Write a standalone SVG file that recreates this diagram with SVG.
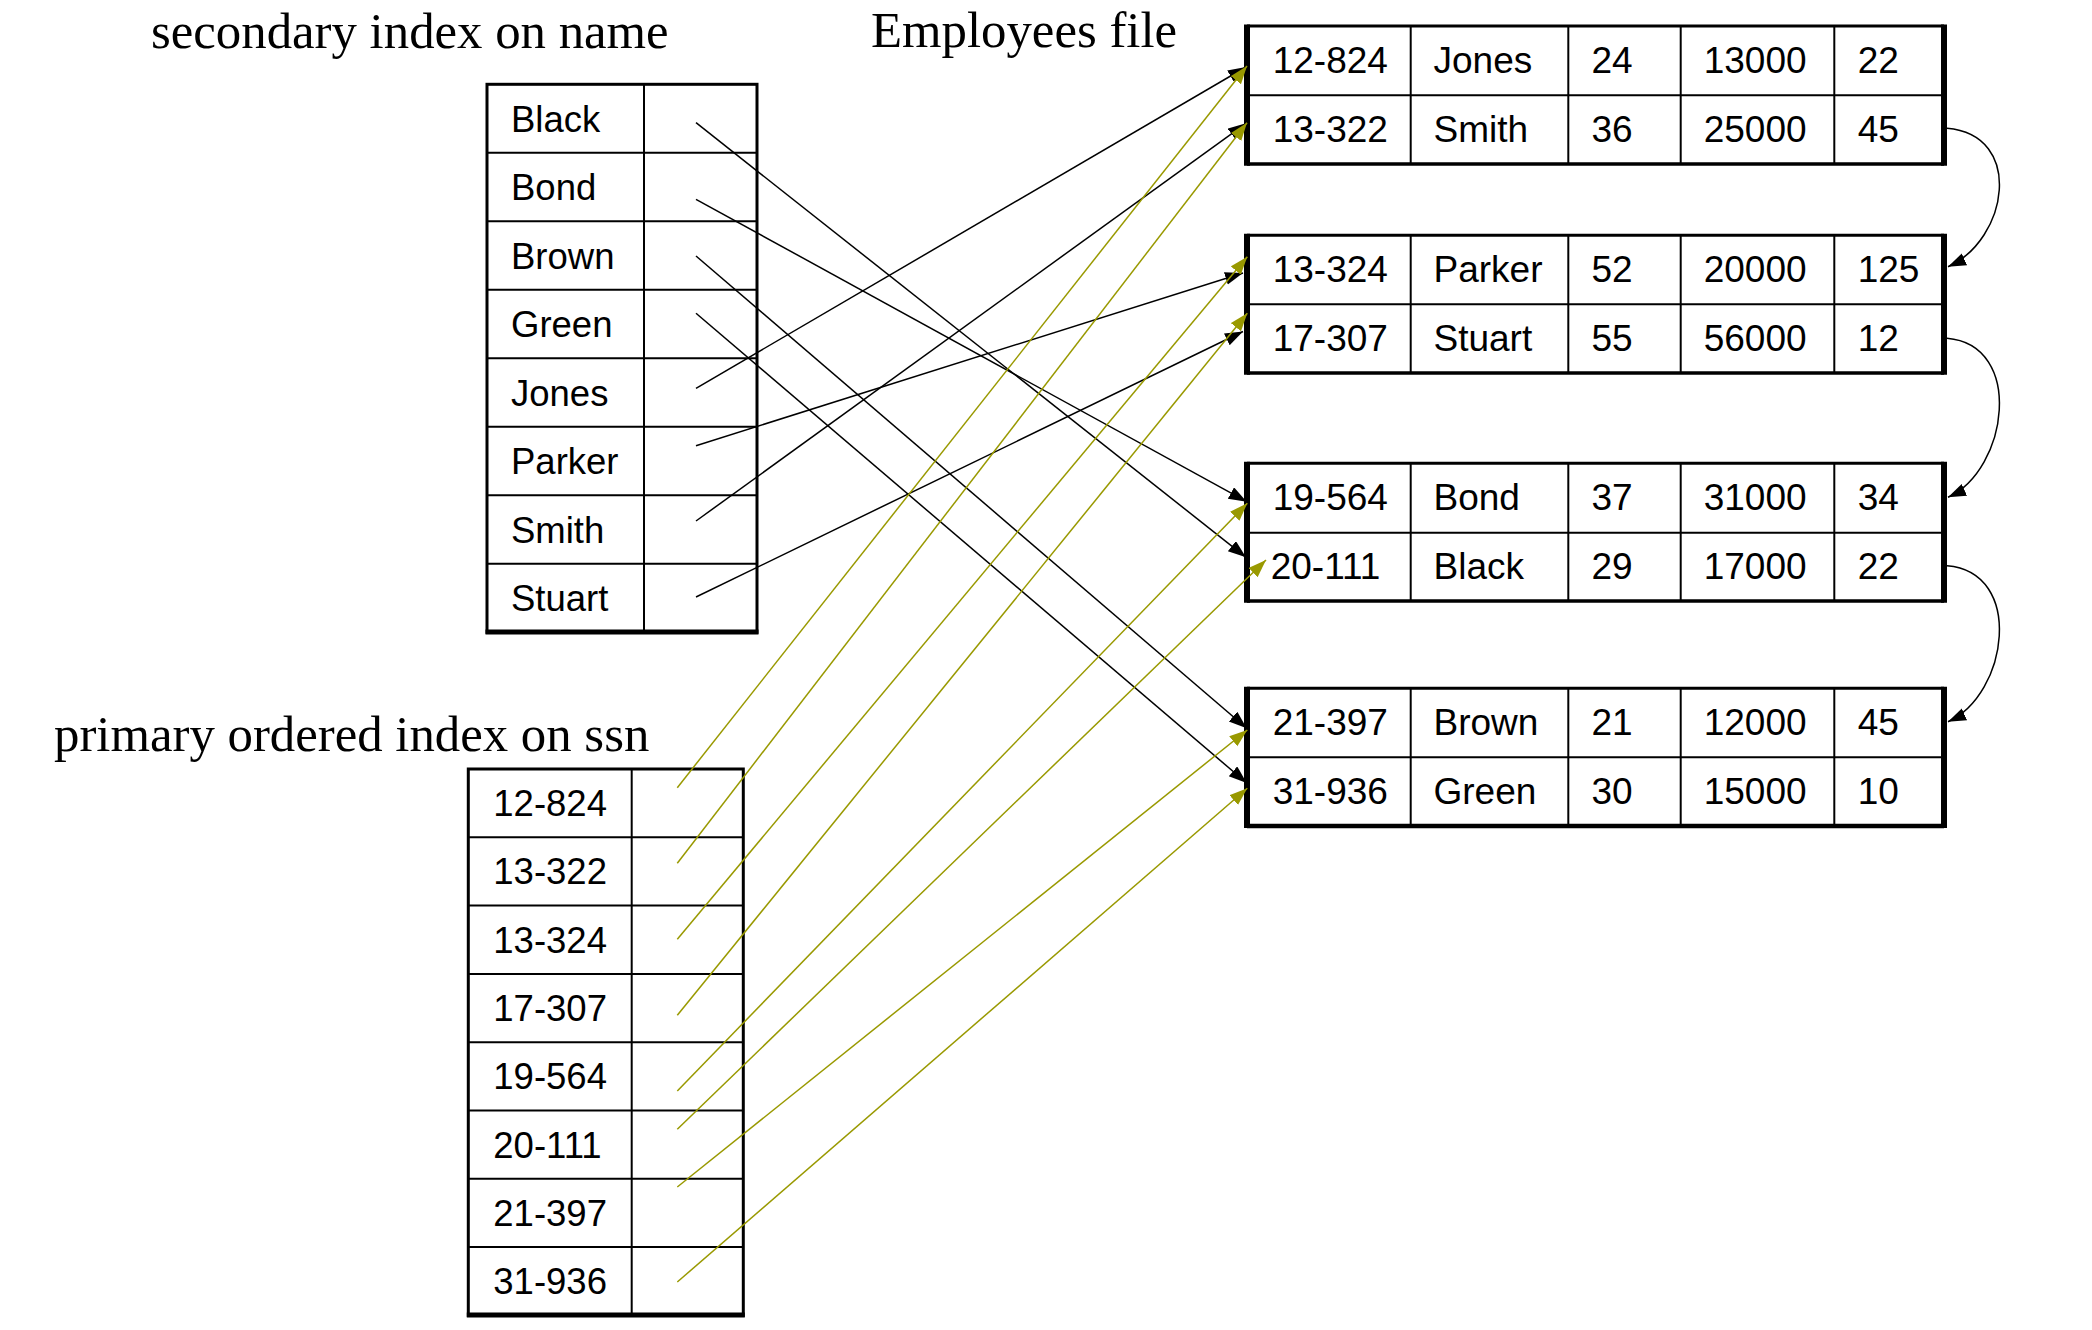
<svg xmlns="http://www.w3.org/2000/svg" width="2092" height="1330" viewBox="0 0 2092 1330">
<style>
.title{font-family:"Liberation Serif","Times New Roman",serif;font-size:50.8px;fill:#000}
.t{font-family:"Liberation Sans",Arial,sans-serif;font-size:36.5px;fill:#000}
.bt{font-family:"Liberation Sans",Arial,sans-serif;font-size:37px;fill:#000}
.in{stroke:#000;stroke-width:2;fill:none}
.out{stroke:#000;stroke-width:3;fill:none}
.thick{stroke:#000;stroke-width:6;fill:none}
.bot{stroke:#000;stroke-width:5;fill:none}
.k{stroke:#000;stroke-width:1.5;fill:none}
.o{stroke:#999900;stroke-width:1.5;fill:none}
</style>
<defs>
<marker id="ak" markerWidth="20" markerHeight="16" refX="18" refY="6.5" orient="auto" markerUnits="userSpaceOnUse"><path d="M0,0 L18,6.5 L0,13 z" fill="#000"/></marker>
<marker id="ao" markerWidth="20" markerHeight="16" refX="18" refY="6.5" orient="auto" markerUnits="userSpaceOnUse"><path d="M0,0 L18,6.5 L0,13 z" fill="#999900"/></marker>
</defs>
<rect width="2092" height="1330" fill="#fff"/>

<g id="titles">
<text class="title" x="151" y="48">secondary index on name</text>
<text class="title" x="871" y="47">Employees file</text>
<text class="title" x="54" y="751">primary ordered index on ssn</text>
</g>

<g id="secondary-index">
<rect class="out" x="487" y="84.3" width="270" height="548"/>
<line class="in" x1="644" y1="84.3" x2="644" y2="632.3"/>
<line class="in" x1="487" y1="152.8" x2="757" y2="152.8"/>
<line class="in" x1="487" y1="221.3" x2="757" y2="221.3"/>
<line class="in" x1="487" y1="289.8" x2="757" y2="289.8"/>
<line class="in" x1="487" y1="358.3" x2="757" y2="358.3"/>
<line class="in" x1="487" y1="426.8" x2="757" y2="426.8"/>
<line class="in" x1="487" y1="495.3" x2="757" y2="495.3"/>
<line class="in" x1="487" y1="563.8" x2="757" y2="563.8"/>
<line class="bot" x1="485.5" y1="632" x2="758.5" y2="632"/>
<text class="t" x="511" y="131.5">Black</text>
<text class="t" x="511" y="200">Bond</text>
<text class="t" x="511" y="268.5">Brown</text>
<text class="t" x="511" y="337">Green</text>
<text class="t" x="511" y="405.5">Jones</text>
<text class="t" x="511" y="474">Parker</text>
<text class="t" x="511" y="542.5">Smith</text>
<text class="t" x="511" y="611">Stuart</text>
</g>

<g id="primary-index">
<rect class="out" x="468.3" y="769" width="275" height="546.4"/>
<line class="in" x1="631.7" y1="769" x2="631.7" y2="1315.4"/>
<line class="in" x1="468.3" y1="837.3" x2="743.3" y2="837.3"/>
<line class="in" x1="468.3" y1="905.6" x2="743.3" y2="905.6"/>
<line class="in" x1="468.3" y1="973.9" x2="743.3" y2="973.9"/>
<line class="in" x1="468.3" y1="1042.2" x2="743.3" y2="1042.2"/>
<line class="in" x1="468.3" y1="1110.5" x2="743.3" y2="1110.5"/>
<line class="in" x1="468.3" y1="1178.8" x2="743.3" y2="1178.8"/>
<line class="in" x1="468.3" y1="1247.1" x2="743.3" y2="1247.1"/>
<line class="bot" x1="466.8" y1="1315" x2="744.8" y2="1315"/>
<text class="t" x="493.3" y="816">12-824</text>
<text class="t" x="493.3" y="884.3">13-322</text>
<text class="t" x="493.3" y="952.6">13-324</text>
<text class="t" x="493.3" y="1020.9">17-307</text>
<text class="t" x="493.3" y="1089.2">19-564</text>
<text class="t" x="493.3" y="1157.5">20-111</text>
<text class="t" x="493.3" y="1225.8">21-397</text>
<text class="t" x="493.3" y="1294.1">31-936</text>
</g>

<g id="block1">
<line class="out" x1="1247" y1="26" x2="1944" y2="26"/>
<line class="in" x1="1247" y1="95.3" x2="1944" y2="95.3"/>
<line class="out" x1="1247" y1="164" x2="1944" y2="164" style="stroke-width:3.5"/>
<line class="in" x1="1410.7" y1="26" x2="1410.7" y2="164"/>
<line class="in" x1="1568.3" y1="26" x2="1568.3" y2="164"/>
<line class="in" x1="1680.7" y1="26" x2="1680.7" y2="164"/>
<line class="in" x1="1834.3" y1="26" x2="1834.3" y2="164"/>
<line class="thick" x1="1247" y1="24.5" x2="1247" y2="165.7"/>
<line class="thick" x1="1944" y1="24.5" x2="1944" y2="165.7"/>
<text class="bt" x="1272.7" y="73">12-824</text><text class="bt" x="1433.5" y="73">Jones</text><text class="bt" x="1591.4" y="73">24</text><text class="bt" x="1703.7" y="73">13000</text><text class="bt" x="1857.7" y="73">22</text>
<text class="bt" x="1272.7" y="142.3">13-322</text><text class="bt" x="1433.5" y="142.3">Smith</text><text class="bt" x="1591.4" y="142.3">36</text><text class="bt" x="1703.7" y="142.3">25000</text><text class="bt" x="1857.7" y="142.3">45</text>
</g>

<g id="block2">
<line class="out" x1="1247" y1="235.3" x2="1944" y2="235.3"/>
<line class="in" x1="1247" y1="304.3" x2="1944" y2="304.3"/>
<line class="out" x1="1247" y1="373" x2="1944" y2="373" style="stroke-width:3.5"/>
<line class="in" x1="1410.7" y1="235.3" x2="1410.7" y2="373"/>
<line class="in" x1="1568.3" y1="235.3" x2="1568.3" y2="373"/>
<line class="in" x1="1680.7" y1="235.3" x2="1680.7" y2="373"/>
<line class="in" x1="1834.3" y1="235.3" x2="1834.3" y2="373"/>
<line class="thick" x1="1247" y1="233.8" x2="1247" y2="374.7"/>
<line class="thick" x1="1944" y1="233.8" x2="1944" y2="374.7"/>
<text class="bt" x="1272.7" y="282.3">13-324</text><text class="bt" x="1433.5" y="282.3">Parker</text><text class="bt" x="1591.4" y="282.3">52</text><text class="bt" x="1703.7" y="282.3">20000</text><text class="bt" x="1857.7" y="282.3">125</text>
<text class="bt" x="1272.7" y="351.3">17-307</text><text class="bt" x="1433.5" y="351.3">Stuart</text><text class="bt" x="1591.4" y="351.3">55</text><text class="bt" x="1703.7" y="351.3">56000</text><text class="bt" x="1857.7" y="351.3">12</text>
</g>

<g id="block3">
<line class="out" x1="1247" y1="463.3" x2="1944" y2="463.3"/>
<line class="in" x1="1247" y1="532.7" x2="1944" y2="532.7"/>
<line class="out" x1="1247" y1="601" x2="1944" y2="601" style="stroke-width:3.5"/>
<line class="in" x1="1410.7" y1="463.3" x2="1410.7" y2="601"/>
<line class="in" x1="1568.3" y1="463.3" x2="1568.3" y2="601"/>
<line class="in" x1="1680.7" y1="463.3" x2="1680.7" y2="601"/>
<line class="in" x1="1834.3" y1="463.3" x2="1834.3" y2="601"/>
<line class="thick" x1="1247" y1="461.8" x2="1247" y2="602.7"/>
<line class="thick" x1="1944" y1="461.8" x2="1944" y2="602.7"/>
<text class="bt" x="1272.7" y="510">19-564</text><text class="bt" x="1433.5" y="510">Bond</text><text class="bt" x="1591.4" y="510">37</text><text class="bt" x="1703.7" y="510">31000</text><text class="bt" x="1857.7" y="510">34</text>
<text class="bt" x="1270.7" y="579.3">20-111</text><text class="bt" x="1433.5" y="579.3">Black</text><text class="bt" x="1591.4" y="579.3">29</text><text class="bt" x="1703.7" y="579.3">17000</text><text class="bt" x="1857.7" y="579.3">22</text>
</g>

<g id="block4">
<line class="out" x1="1247" y1="688.3" x2="1944" y2="688.3"/>
<line class="in" x1="1247" y1="757.3" x2="1944" y2="757.3"/>
<line class="out" x1="1247" y1="826" x2="1944" y2="826" style="stroke-width:4.5"/>
<line class="in" x1="1410.7" y1="688.3" x2="1410.7" y2="826"/>
<line class="in" x1="1568.3" y1="688.3" x2="1568.3" y2="826"/>
<line class="in" x1="1680.7" y1="688.3" x2="1680.7" y2="826"/>
<line class="in" x1="1834.3" y1="688.3" x2="1834.3" y2="826"/>
<line class="thick" x1="1247" y1="686.8" x2="1247" y2="828"/>
<line class="thick" x1="1944" y1="686.8" x2="1944" y2="828"/>
<text class="bt" x="1272.7" y="735">21-397</text><text class="bt" x="1433.5" y="735">Brown</text><text class="bt" x="1591.4" y="735">21</text><text class="bt" x="1703.7" y="735">12000</text><text class="bt" x="1857.7" y="735">45</text>
<text class="bt" x="1272.7" y="804.3">31-936</text><text class="bt" x="1433.5" y="804.3">Green</text><text class="bt" x="1591.4" y="804.3">30</text><text class="bt" x="1703.7" y="804.3">15000</text><text class="bt" x="1857.7" y="804.3">10</text>
</g>

<g id="connectors">
<g id="name-pointers">
<line class="k" x1="696" y1="122.7" x2="1246" y2="557.3" marker-end="url(#ak)"/>
<line class="k" x1="696" y1="199.3" x2="1246.7" y2="501.7" marker-end="url(#ak)"/>
<line class="k" x1="696" y1="256" x2="1246.7" y2="728.3" marker-end="url(#ak)"/>
<line class="k" x1="696" y1="313.3" x2="1246.7" y2="783" marker-end="url(#ak)"/>
<line class="k" x1="696" y1="388.3" x2="1246" y2="67" marker-end="url(#ak)"/>
<line class="k" x1="696" y1="445.7" x2="1243" y2="273" marker-end="url(#ak)"/>
<line class="k" x1="696" y1="521" x2="1246" y2="123.3" marker-end="url(#ak)"/>
<line class="k" x1="696" y1="597" x2="1243" y2="331.5" marker-end="url(#ak)"/>
</g>
<g id="ssn-pointers">
<line class="o" x1="677.3" y1="787.7" x2="1247" y2="66" marker-end="url(#ao)"/>
<line class="o" x1="677.3" y1="863.3" x2="1247" y2="122.7" marker-end="url(#ao)"/>
<line class="o" x1="677.3" y1="939.3" x2="1247.3" y2="256.7" marker-end="url(#ao)"/>
<line class="o" x1="677.3" y1="1015.3" x2="1247.3" y2="313.3" marker-end="url(#ao)"/>
<line class="o" x1="677.3" y1="1091" x2="1247.3" y2="503.3" marker-end="url(#ao)"/>
<line class="o" x1="677.3" y1="1129.3" x2="1266" y2="560" marker-end="url(#ao)"/>
<line class="o" x1="677.3" y1="1187" x2="1247.3" y2="730" marker-end="url(#ao)"/>
<line class="o" x1="677.3" y1="1282" x2="1247.3" y2="788.3" marker-end="url(#ao)"/>
</g>
<g id="block-links">
<path class="k" d="M1947,128.3 C2025,135 2008,240 1948,266.7" marker-end="url(#ak)"/>
<path class="k" d="M1947,338.3 C2025,345 2008,470 1948,497.3" marker-end="url(#ak)"/>
<path class="k" d="M1947,565.7 C2025,572 2008,695 1948,721.7" marker-end="url(#ak)"/>
</g>
</g>
</svg>
